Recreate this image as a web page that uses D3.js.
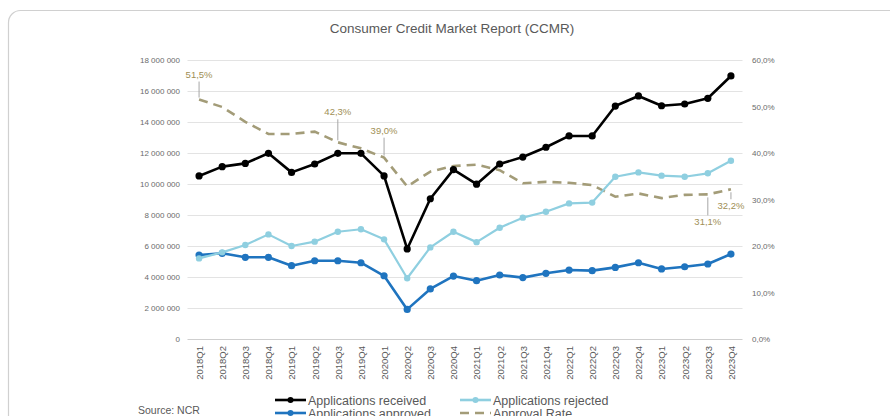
<!DOCTYPE html>
<html>
<head>
<meta charset="utf-8">
<script src="https://cdn.jsdelivr.net/npm/d3@7"></script>
<style>
  body { margin: 0; background: #fff; }
  text { font-family: "Liberation Sans", Arial, sans-serif; fill: #595959; }
</style>
</head>
<body>
<svg id="chart" width="890" height="416"></svg>
<script>
// quarters on the x axis
var quarters = ['2018Q1','2018Q2','2018Q3','2018Q4','2019Q1','2019Q2','2019Q3','2019Q4',
    '2020Q1','2020Q2','2020Q3','2020Q4','2021Q1','2021Q2','2021Q3','2021Q4',
    '2022Q1','2022Q2','2022Q3','2022Q4','2023Q1','2023Q2','2023Q3','2023Q4']

// values (millions of applications)
var received = [10.52, 11.12, 11.33, 11.98, 10.75, 11.29, 11.98, 11.98,
    10.52, 5.81, 9.05, 10.93, 9.99, 11.29, 11.74, 12.37,
    13.10, 13.10, 15.03, 15.68, 15.05, 15.16, 15.53, 16.97]
var rejected = [5.20, 5.59, 6.06, 6.75, 6.00, 6.28, 6.92, 7.08,
    6.43, 3.92, 5.91, 6.92, 6.25, 7.18, 7.83, 8.21,
    8.75, 8.80, 10.47, 10.75, 10.54, 10.47, 10.69, 11.50]
var approved = [5.42, 5.53, 5.27, 5.27, 4.73, 5.05, 5.05, 4.92,
    4.08, 1.91, 3.23, 4.06, 3.76, 4.13, 3.96, 4.24,
    4.45, 4.41, 4.62, 4.92, 4.52, 4.66, 4.84, 5.48]
// approval rate in percent (right axis)
var approvalRate = [51.5, 49.9, 46.7, 44.1, 44.1, 44.6, 42.3, 41.0,
    39.0, 32.8, 36.0, 37.2, 37.5, 36.3, 33.5, 33.8,
    33.6, 33.1, 30.6, 31.3, 30.3, 31.0, 31.1, 32.2]
// which approval rate points carry a data label
var labelledRate = [0, 6, 8, 22, 23]

var leftTicks = [0, 2e6, 4e6, 6e6, 8e6, 10e6, 12e6, 14e6, 16e6, 18e6]
var rightTicks = [0, 0.1, 0.2, 0.3, 0.4, 0.5, 0.6]

var locale = d3.formatLocale({ decimal: ',', thousands: '\u00a0', grouping: [3], currency: ['', ''] })
var fmtLeft = locale.format(',')
var fmtRight = locale.format('.1%')

var svg = d3.select('#chart')

// outer frame
svg.append('rect')
    .attr('x', 8.5).attr('y', 10.5)
    .attr('width', 900).attr('height', 430)
    .attr('rx', 12)
    .style('fill', 'none')
    .style('stroke', '#d0d0d0')
    .style('stroke-width', 1.2)

svg.append('text')
    .attr('x', 452).attr('y', 33)
    .attr('text-anchor', 'middle')
    .style('font-size', '13.5px')
    .text('Consumer Credit Market Report (CCMR)')

var x = d3.scalePoint().domain(quarters).range([187.5, 742.5]).padding(0.5)
var yLeft = d3.scaleLinear().domain([0, 18e6]).range([339, 60])
var yRight = d3.scaleLinear().domain([0, 0.6]).range([339, 60])

// gridlines
svg.append('g').selectAll('line')
    .data(leftTicks)
    .enter()
    .append('line')
    .attr('x1', 187.5).attr('x2', 742.5)
    .attr('y1', function (d) { return Math.round(yLeft(d)) + 0.5 })
    .attr('y2', function (d) { return Math.round(yLeft(d)) + 0.5 })
    .style('stroke', function (d) { return d === 0 ? '#cfcfcf' : '#e3e3e3' })
    .style('stroke-width', 1)

// left axis
var leftAxis = svg.append('g')
    .attr('transform', 'translate(180,0)')
    .call(d3.axisLeft(yLeft).tickValues(leftTicks).tickFormat(fmtLeft).tickSize(0).tickPadding(0))
leftAxis.select('.domain').remove()
leftAxis.selectAll('text').style('font-size', '8px').style('fill', '#6b6b6b')

// right axis
var rightAxis = svg.append('g')
    .attr('transform', 'translate(752,0)')
    .call(d3.axisRight(yRight).tickValues(rightTicks).tickFormat(fmtRight).tickSize(0).tickPadding(0))
rightAxis.select('.domain').remove()
rightAxis.selectAll('text').style('font-size', '8px').style('fill', '#6b6b6b')

// bottom axis, rotated labels
var bottomAxis = svg.append('g')
    .attr('transform', 'translate(0,339)')
    .call(d3.axisBottom(x).tickSize(0).tickPadding(0))
bottomAxis.select('.domain').remove()
bottomAxis.selectAll('text')
    .style('font-size', '9.5px')
    .style('fill', '#595959')
    .style('text-anchor', 'end')
    .attr('dy', '0.35em')
    .attr('transform', 'translate(0,7) rotate(-90)')

var series = [
    { name: 'Applications received', values: received, color: '#000000', width: 2.6, r: 3.6 },
    { name: 'Applications rejected', values: rejected, color: '#8fcfe0', width: 2.2, r: 3.2 },
    { name: 'Applications approved', values: approved, color: '#1f74bf', width: 2.6, r: 3.6 }
]

var lineFor = function (vals) {
    return d3.line()
        .x(function (d, i) { return x(quarters[i]) })
        .y(function (d) { return yLeft(d * 1e6) })(vals)
}

// approval rate dashed line (drawn behind the others)
var rateLine = d3.line()
    .x(function (d, i) { return x(quarters[i]) })
    .y(function (d) { return yRight(d / 100) })

svg.append('path')
    .attr('d', rateLine(approvalRate))
    .style('fill', 'none')
    .style('stroke', '#a39c78')
    .style('stroke-width', 2.6)
    .style('stroke-dasharray', '9,6')

series.slice().reverse().forEach(function (s) {
    var g = svg.append('g')
    g.append('path')
        .attr('d', lineFor(s.values))
        .style('fill', 'none')
        .style('stroke', s.color)
        .style('stroke-width', s.width)
        .style('stroke-linejoin', 'round')
    g.selectAll('circle')
        .data(s.values)
        .enter()
        .append('circle')
        .attr('cx', function (d, i) { return x(quarters[i]) })
        .attr('cy', function (d) { return yLeft(d * 1e6) })
        .attr('r', s.r)
        .style('fill', s.color)
})

// approval rate labels with leader lines
var labelShift = { 0: -22, 6: -27, 8: -24, 22: 31, 23: 20 }
var rateLabels = svg.append('g')
labelledRate.forEach(function (i) {
    var px = x(quarters[i])
    var py = yRight(approvalRate[i] / 100)
    var dy = labelShift[i]
    var lineEnd = dy < 0 ? py + dy + 4 : py + dy - 10
    rateLabels.append('line')
        .attr('x1', px).attr('x2', px)
        .attr('y1', dy < 0 ? py - 2 : py + 3)
        .attr('y2', lineEnd)
        .style('stroke', '#a6a6a6')
        .style('stroke-width', 1)
    rateLabels.append('text')
        .attr('x', px).attr('y', py + dy)
        .attr('text-anchor', 'middle')
        .style('font-size', '9.5px')
        .style('fill', '#a08f55')
        .text(locale.format('.1f')(approvalRate[i]) + '%')
})

// legend
var legendItems = [
    { name: 'Applications received', color: '#000000', dash: null, marker: true, col: 0, row: 0 },
    { name: 'Applications rejected', color: '#8fcfe0', dash: null, marker: true, col: 1, row: 0 },
    { name: 'Applications approved', color: '#1f74bf', dash: null, marker: true, col: 0, row: 1 },
    { name: 'Approval Rate', color: '#a39c78', dash: '9,6', marker: false, col: 1, row: 1 }
]
var legend = svg.append('g')
legendItems.forEach(function (d) {
    var lx = d.col === 0 ? 275 : 460
    var ly = d.row === 0 ? 400 : 413
    legend.append('line')
        .attr('x1', lx).attr('x2', lx + 31)
        .attr('y1', ly).attr('y2', ly)
        .style('stroke', d.color)
        .style('stroke-width', 2.6)
        .style('stroke-dasharray', d.dash)
    if (d.marker) {
        legend.append('circle')
            .attr('cx', lx + 15.5).attr('cy', ly)
            .attr('r', 3)
            .style('fill', d.color)
    }
    legend.append('text')
        .attr('x', lx + 33).attr('y', ly + 4.5)
        .style('font-size', '12.5px')
        .text(d.name)
})

svg.append('text')
    .attr('x', 138).attr('y', 414)
    .style('font-size', '10.5px')
    .text('Source: NCR')
</script>
</body>
</html>
